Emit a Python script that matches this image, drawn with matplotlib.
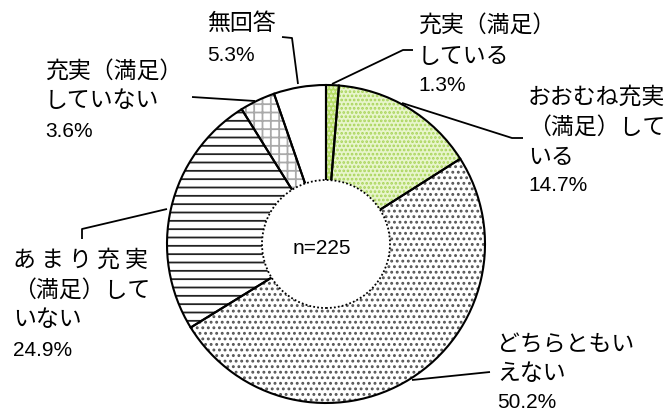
import matplotlib
matplotlib.use('Agg')
import matplotlib.pyplot as plt
from matplotlib.patches import Circle

# ==== Data ====
labels = ['充実（満足）\nしている', 'おおむね充実\n（満足）して\nいる', 'どちらともい\nえない',
          'あ ま り 充 実\n（満足）して\nいない', '充実（満足）\nしていない', '無回答']
values = [1.3, 14.7, 50.2, 24.9, 3.6, 5.3]
pct_labels = ['1.3%', '14.7%', '50.2%', '24.9%', '3.6%', '5.3%']
n_label = 'n=225'

# ==== Styles / layout (pixel coords, y from top) ====
H = 412
CX, CY = 326, 244
R_OUT, R_IN = 159, 64
faces = ['#b4dc64', '#e8f5cc', 'white', 'white', 'white', 'white']
hatches = ['....', '....', '...', '--', '++', None]
hatch_cols = ['#e9f5cf', '#a8d458', '#555555', '#222222', '#aaaaaa', 'white']

# label: (x of left edge, y center of first line)
text_pos = [(418, 25), (528, 97), (497, 345), (13, 260), (45, 71), (207, 23)]
line_step = [31, 30, 28, 30, 29, 0]
pct_pos = [(418, 85), (528, 185), (497, 403), (13, 350), (45, 131), (207, 55)]
leaders = [
    [(332, 84), (403, 50), (413, 50)],
    [(402, 103), (512, 138), (523, 138)],
    [(412, 380), (490, 372)],
    [(167, 209), (82, 229), (82, 239)],
    [(192, 97), (255, 101)],
    [(298, 84), (292, 38), (282, 37)],
]

plt.rcParams['hatch.linewidth'] = 1.3
JP = ['Noto Sans CJK JP', 'DejaVu Sans']
NUM = ['Liberation Sans', 'DejaVu Sans']

fig = plt.figure(figsize=(6.72, 4.12), dpi=100)
ax = fig.add_axes([0, 0, 1, 1])

# filled, hatched ring
wedges, _ = ax.pie(values, startangle=90, counterclock=False, radius=R_OUT,
                   center=(CX, H - CY), wedgeprops=dict(width=R_OUT - R_IN, linewidth=0))
for w, fc, h, hc in zip(wedges, faces, hatches, hatch_cols):
    w.set_facecolor(fc)
    w.set_edgecolor(hc)
    w.set_linewidth(0)
    if h:
        w.set_hatch(h)

# black outlines (radial lines + outer arc)
ax.pie(values, startangle=90, counterclock=False, radius=R_OUT, center=(CX, H - CY),
       wedgeprops=dict(facecolor='none', edgecolor='black', linewidth=1.5))

# hole with dotted edge
ax.add_patch(Circle((CX, H - CY), R_IN, facecolor='white', edgecolor='black',
                    linewidth=1.3, linestyle=(0, (1, 1.2)), zorder=5))
ax.text(CX - 4, H - 248, n_label, fontsize=15, family=NUM, ha='center', va='center', zorder=6)

for lab, pct, (tx, ty), step, (px, py), pts in zip(labels, pct_labels, text_pos, line_step,
                                                    pct_pos, leaders):
    for i, line in enumerate(lab.split('\n')):
        ax.text(tx, H - (ty + i * step), line, fontsize=16.5, family=JP, va='center', ha='left')
    ax.text(px, H - py, pct, fontsize=15, family=NUM, va='center', ha='left')
    xs = [p[0] for p in pts]
    ys = [H - p[1] for p in pts]
    ax.plot(xs, ys, color='black', linewidth=1.3, solid_capstyle='butt')

ax.set_xlim(0, 672)
ax.set_ylim(0, H)
ax.set_aspect('equal')
ax.axis('off')

plt.savefig('out.png', dpi=100)
